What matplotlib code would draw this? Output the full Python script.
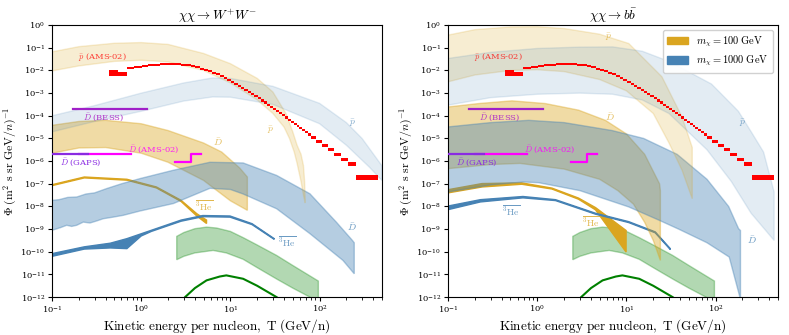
import numpy as np
import matplotlib
matplotlib.use("Agg")
import matplotlib.pyplot as plt
from matplotlib.patches import Patch

plt.rcParams['mathtext.fontset'] = 'cm'
plt.rcParams['font.family'] = 'serif'
plt.rcParams['font.serif'] = ['DejaVu Serif']

ORANGE = 'goldenrod'
BLUE = 'steelblue'
GREEN = 'green'

## AMS-02 antiproton data (bin edges in T, log10 of flux, half height in dex)
ams_edges = [0.433, 0.554, 0.690, 0.840, 1.013, 1.199, 1.408, 1.639, 1.892, 2.177, 2.483,
             2.821, 3.190, 3.590, 4.031, 4.513, 5.036, 5.600, 6.214, 6.879, 7.594, 8.369,
             9.205, 10.10, 11.10, 12.10, 13.19, 14.39, 15.69, 17.09, 18.59, 20.18, 21.88,
             23.78, 25.78, 27.88, 30.18, 32.58, 35.17, 37.97, 40.97, 44.17, 47.57, 51.27,
             55.17, 59.37, 63.87, 68.77, 73.97, 79.57, 92.07, 107.1, 124.1, 146.1, 174.1,
             210.1, 258.1, 449.1]
ams_logflux = [-2.12, -2.16, -1.90, -1.85, -1.81, -1.78, -1.75, -1.73, -1.72, -1.72, -1.73,
               -1.75, -1.78, -1.82, -1.86, -1.92, -1.98, -2.04, -2.10, -2.17, -2.25, -2.33,
               -2.41, -2.49, -2.58, -2.67, -2.76, -2.85, -2.94, -3.04, -3.13, -3.22, -3.32,
               -3.41, -3.51, -3.60, -3.70, -3.79, -3.89, -3.98, -4.07, -4.17, -4.26, -4.35,
               -4.45, -4.54, -4.63, -4.72, -4.81, -4.96, -5.15, -5.32, -5.50, -5.70, -5.92,
               -6.12, -6.72]
ams_err = [0.13, 0.085] + [0.045] * 28 + [0.05] * 15 + [0.06] * 5 + [0.065] * 4 + [0.07, 0.08, 0.10]

## experimental sensitivities
bess_T = [0.17, 1.15]
bess_phi = [1.9e-4, 1.9e-4]
gaps_T = [0.05, 0.25]
gaps_phi = [2.0e-6, 2.0e-6]
ams_dbar_T1 = [0.2, 0.76]
ams_dbar_phi1 = [2.0e-6, 2.0e-6]
ams_dbar_T2 = [2.4, 3.65, 3.65, 4.7]
ams_dbar_phi2 = [9.0e-7, 9.0e-7, 2.0e-6, 2.0e-6]

## background band and line (same on both panels), log10 flux
bkg_T_up = [2.5, 3, 4, 5.4, 7, 10, 14, 20, 33, 50, 70, 97]
bkg_up = [-9.32, -9.15, -8.98, -8.91, -8.95, -9.1, -9.38, -9.7, -10.16, -10.6, -10.95, -11.29]
bkg_T_lo = [2.5, 3, 4, 6.4, 9, 13.9, 20, 33, 50, 78, 97]
bkg_lo = [-10.35, -10.2, -10.05, -9.94, -10.05, -10.33, -10.7, -11.2, -11.6, -12.0, -12.3]
line_T = [2.8, 3.1, 4, 5.4, 7.6, 9, 13.9, 20, 33, 40]
line_phi = [-12.2, -12.0, -11.6, -11.26, -11.09, -11.04, -11.19, -11.5, -12.0, -12.25]

## --- W+W- panel ---
ww_pbar100_T_up = [0.1, 0.2, 0.5, 1, 2, 5, 10, 20, 30, 42, 50, 56, 62, 66, 68, 69]
ww_pbar100_up = [-1.18, -0.95, -0.8, -0.77, -0.85, -1.25, -1.7, -2.35, -2.95, -3.9, -4.7, -5.3, -5.7, -6.2, -6.9, -7.7]
ww_pbar100_T_lo = [0.1, 0.2, 0.5, 1, 2, 5, 10, 20, 30, 40, 46, 52, 56, 62, 66, 69]
ww_pbar100_lo = [-2.02, -1.8, -1.6, -1.55, -1.62, -2.0, -2.55, -3.3, -3.9, -4.5, -5.0, -5.6, -6.1, -6.9, -7.5, -7.85]

ww_pbar1000_T_up = [0.1, 0.3, 1, 3, 6.3, 10, 30, 100, 200, 300, 500]
ww_pbar1000_up = [-4.0, -3.55, -3.0, -2.55, -2.33, -2.35, -2.7, -3.45, -4.3, -5.0, -6.2]
ww_pbar1000_T_lo = [0.1, 0.3, 1, 3, 6.3, 10, 30, 100, 200, 363, 500]
ww_pbar1000_lo = [-4.71, -4.25, -3.8, -3.35, -3.17, -3.18, -3.5, -4.35, -5.3, -6.27, -6.85]

ww_dbar100_T_up = [0.1, 0.2, 0.4, 1, 2, 5, 8, 12.7, 15.5]
ww_dbar100_up = [-4.42, -4.25, -4.2, -4.35, -4.65, -5.2, -5.6, -6.3, -6.7]
ww_dbar100_T_lo = [0.1, 0.2, 0.4, 1, 2, 5, 10, 15.5]
ww_dbar100_lo = [-5.65, -5.42, -5.4, -5.65, -6.05, -6.85, -7.75, -8.17]

ww_dbar1000_T_up = [0.1, 0.12, 0.15, 0.19, 0.24, 0.3, 0.41, 0.6, 0.97, 2.3, 5.9, 13.9, 33, 78, 155, 234, 245]
ww_dbar1000_up = [-7.73, -7.7, -7.6, -7.58, -7.45, -7.4, -7.21, -7.0, -6.77, -6.4, -6.05, -6.08, -6.63, -7.44, -8.7, -9.5, -9.6]
ww_dbar1000_T_lo = [0.1, 0.123, 0.146, 0.166, 0.189, 0.224, 0.266, 0.316, 0.376, 0.486, 0.63, 0.97,
                    2.3, 5.9, 10, 13.9, 33, 78, 183, 245]
ww_dbar1000_lo = [-9.05, -8.94, -8.83, -8.88, -8.83, -8.69, -8.73, -8.64, -8.54, -8.47, -8.39, -8.2,
                  -7.87, -7.2, -7.25, -7.45, -8.1, -9.2, -10.38, -10.97]

ww_he100_T = [0.1, 0.23, 0.69, 1.48, 2.8, 4.2, 5.4]
ww_he100_up = [-7.04, -6.7, -6.8, -7.14, -7.73, -8.32, -8.6]
ww_he100_lo = [-7.08, -6.74, -6.84, -7.18, -7.78, -8.42, -8.75]

ww_he1000_T_up = [0.1, 0.23, 0.45, 0.69, 1.3, 2.8, 4.9, 9.9, 17.5, 31]
ww_he1000_up = [-10.08, -9.78, -9.62, -9.42, -9.05, -8.6, -8.4, -8.42, -8.76, -9.42]
ww_he1000_T_lo = [0.1, 0.23, 0.45, 0.69, 1.0, 1.3, 2.8, 4.9, 9.9, 17.5, 31]
ww_he1000_lo = [-10.2, -9.88, -9.83, -9.86, -9.3, -9.1, -8.65, -8.45, -8.47, -8.8, -9.45]

## --- b bbar panel ---
bb_pbar100_T_up = [0.1, 0.2, 0.5, 1, 2, 5, 10.6, 25, 42, 54.7]
bb_pbar100_up = [-0.44, -0.2, -0.08, -0.07, -0.15, -0.4, -0.81, -2.28, -4.05, -5.4]
bb_pbar100_T_lo = [0.1, 0.2, 0.5, 1, 2, 5, 10, 20, 30, 42, 54.7]
bb_pbar100_lo = [-2.5, -2.2, -2.0, -1.97, -2.05, -2.4, -2.9, -3.9, -5.2, -6.4, -7.66]

bb_pbar1000_T_up = [0.1, 0.3, 1, 3, 7, 15, 30, 90, 180, 250, 345, 453]
bb_pbar1000_up = [-1.47, -1.2, -1.03, -0.97, -0.96, -1.15, -1.6, -2.6, -3.8, -4.7, -5.6, -7.36]
bb_pbar1000_T_lo = [0.1, 0.3, 1, 3, 7, 15, 30, 80, 150, 250, 453]
bb_pbar1000_lo = [-3.53, -3.2, -3.05, -3.0, -3.05, -3.3, -3.9, -5.5, -6.9, -8.3, -9.5]

bb_dbar100_T_up = [0.1, 0.22, 0.52, 1.23, 2.9, 5.8, 10, 16, 23.5, 24]
bb_dbar100_up = [-3.61, -3.46, -3.34, -3.46, -3.75, -4.2, -4.8, -5.7, -7.0, -7.3]
bb_dbar100_T_lo = [0.1, 0.3, 0.64, 2, 5, 8, 12, 16, 20, 24]
bb_dbar100_lo = [-6.33, -6.15, -6.1, -6.35, -6.8, -7.3, -7.9, -8.7, -9.5, -10.38]

bb_dbar1000_T_up = [0.1, 0.3, 0.8, 2, 6.9, 15.6, 37, 80, 140, 181, 190]
bb_dbar1000_up = [-4.49, -4.3, -4.2, -4.3, -4.65, -5.0, -5.7, -6.8, -8.0, -8.98, -9.06]
bb_dbar1000_T_lo = [0.1, 0.3, 0.69, 1.03, 3, 10.6, 23, 38.5, 80, 142, 190]
bb_dbar1000_lo = [-7.36, -7.05, -6.92, -6.95, -7.3, -8.02, -8.6, -9.0, -9.6, -10.23, -12.1]

bb_he100_T = [0.1, 0.24, 0.67, 1.46, 2.9, 4.5, 9.9]
bb_he100_up = [-7.26, -6.99, -6.96, -7.19, -7.63, -8.05, -9.06]
bb_he100_lo = [-7.4, -7.14, -7.02, -7.23, -7.68, -8.15, -10.01]

bb_he1000_T = [0.1, 0.23, 0.69, 1.6, 4.5, 10.6, 21, 31]
bb_he1000_up = [-7.98, -7.7, -7.56, -7.7, -8.3, -8.67, -9.12, -9.86]
bb_he1000_lo = [-8.14, -7.8, -7.62, -7.74, -8.34, -8.71, -9.16, -9.9]


def band(ax, T_up, up, T_lo, lo, color, alpha, lw=1.0):
    x = list(T_up) + list(T_lo)[::-1]
    y = [10.0 ** v for v in up] + [10.0 ** v for v in lo][::-1]
    ax.fill(x, y, color=color, alpha=alpha, lw=lw)


def common(ax, title):
    ## background
    band(ax, bkg_T_up, bkg_up, bkg_T_lo, bkg_lo, GREEN, 0.3)
    ax.plot(line_T, [10.0 ** v for v in line_phi], color=GREEN, lw=1.5)

    ## AMS-02 antiprotons
    lo_e = np.array(ams_edges[:-1])
    hi_e = np.array(ams_edges[1:])
    c = np.array(ams_logflux)
    e = np.array(ams_err)
    ax.bar(lo_e, 10 ** (c + e) - 10 ** (c - e), width=hi_e - lo_e, bottom=10 ** (c - e),
           align='edge', color='red', lw=0, zorder=5)
    ax.text(0.195, 10 ** -1.41, r'$\bar{p}$ (AMS-02)', color='red', alpha=0.75, fontsize=6,
            va='center', zorder=6)

    ## sensitivities
    ax.plot(bess_T, bess_phi, color='#a020c8', lw=1.6, zorder=6)
    ax.plot(ams_dbar_T1, ams_dbar_phi1, color='magenta', lw=1.6, zorder=6)
    ax.plot(ams_dbar_T2, ams_dbar_phi2, color='magenta', lw=1.6, zorder=6)
    ax.plot(gaps_T, gaps_phi, color='#8a2be2', lw=1.6, zorder=7)
    ax.text(0.222, 10 ** -4.08, r'$\bar{D}$ (BESS)', color='#b030c8', fontsize=6, va='center')
    ax.text(0.71, 10 ** -5.45, r'$\bar{D}$ (AMS-02)', color='magenta', alpha=0.85, fontsize=6, va='center')
    ax.text(0.123, 10 ** -6.04, r'$\bar{D}$ (GAPS)', color='#8a2be2', fontsize=6, va='center')

    ax.set_xscale('log')
    ax.set_yscale('log')
    ax.set_xlim(0.1, 500)
    ax.set_ylim(1e-12, 1)
    ax.set_yticks([10.0 ** -k for k in range(0, 13)])
    ax.yaxis.set_minor_locator(matplotlib.ticker.NullLocator())
    ax.tick_params(labelsize=6, pad=2, length=3)
    ax.tick_params(which='minor', length=2)
    ax.set_title(title, fontsize=9.5, pad=3)
    ax.set_xlabel(r'$\mathrm{Kinetic\ energy\ per\ nucleon,\ T\ (GeV/n)}$', fontsize=9.5, labelpad=1)
    ax.set_ylabel(r'$\Phi\ (\mathrm{m}^2\ \mathrm{s\ sr\ GeV}/n)^{-1}$', fontsize=8.5, labelpad=1)


fig = plt.figure(figsize=(7.89, 3.35), dpi=100)
ax1 = fig.add_axes([0.066, 0.113, 0.418, 0.812])
ax2 = fig.add_axes([0.568, 0.113, 0.418, 0.812])

## left panel
common(ax1, r'$\chi\chi \rightarrow W^{+}W^{-}$')
band(ax1, ww_he100_T, ww_he100_up, ww_he100_T, ww_he100_lo, ORANGE, 1.0)
band(ax1, ww_he1000_T_up, ww_he1000_up, ww_he1000_T_lo, ww_he1000_lo, BLUE, 1.0)
band(ax1, ww_dbar100_T_up, ww_dbar100_up, ww_dbar100_T_lo, ww_dbar100_lo, ORANGE, 0.4)
band(ax1, ww_dbar1000_T_up, ww_dbar1000_up, ww_dbar1000_T_lo, ww_dbar1000_lo, BLUE, 0.4)
band(ax1, ww_pbar100_T_up, ww_pbar100_up, ww_pbar100_T_lo, ww_pbar100_lo, ORANGE, 0.2)
band(ax1, ww_pbar1000_T_up, ww_pbar1000_up, ww_pbar1000_T_lo, ww_pbar1000_lo, BLUE, 0.15)
ax1.text(6.3, 10 ** -5.15, r'$\bar{D}$', color=ORANGE, alpha=0.7, fontsize=7, va='center')
ax1.text(25.5, 10 ** -4.64, r'$\bar{p}$', color=ORANGE, alpha=0.7, fontsize=7, va='center')
ax1.text(212, 10 ** -4.34, r'$\bar{p}$', color=BLUE, alpha=0.7, fontsize=7, va='center')
ax1.text(4.0, 10 ** -7.95, r'$\overline{^3\mathrm{He}}$', color=ORANGE, alpha=0.8, fontsize=7, va='center')
ax1.text(33.9, 10 ** -9.54, r'$\overline{^3\mathrm{He}}$', color=BLUE, alpha=0.8, fontsize=7, va='center')
ax1.text(201, 10 ** -8.91, r'$\bar{D}$', color=BLUE, alpha=0.8, fontsize=7, va='center')

## right panel
common(ax2, r'$\chi\chi \rightarrow b\bar{b}$')
band(ax2, bb_he100_T, bb_he100_up, bb_he100_T, bb_he100_lo, ORANGE, 1.0)
band(ax2, bb_he1000_T, bb_he1000_up, bb_he1000_T, bb_he1000_lo, BLUE, 1.0)
band(ax2, bb_dbar100_T_up, bb_dbar100_up, bb_dbar100_T_lo, bb_dbar100_lo, ORANGE, 0.4)
band(ax2, bb_dbar1000_T_up, bb_dbar1000_up, bb_dbar1000_T_lo, bb_dbar1000_lo, BLUE, 0.4)
band(ax2, bb_pbar100_T_up, bb_pbar100_up, bb_pbar100_T_lo, bb_pbar100_lo, ORANGE, 0.2)
band(ax2, bb_pbar1000_T_up, bb_pbar1000_up, bb_pbar1000_T_lo, bb_pbar1000_lo, BLUE, 0.15)
ax2.text(5.8, 10 ** -0.52, r'$\bar{p}$', color=ORANGE, alpha=0.7, fontsize=7, va='center')
ax2.text(5.8, 10 ** -4.05, r'$\bar{D}$', color=ORANGE, alpha=0.7, fontsize=7, va='center')
ax2.text(182, 10 ** -4.34, r'$\bar{p}$', color=BLUE, alpha=0.7, fontsize=7, va='center')
ax2.text(0.4, 10 ** -8.17, r'$\overline{^3\mathrm{He}}$', color=BLUE, alpha=0.8, fontsize=7, va='center')
ax2.text(3.17, 10 ** -8.69, r'$\overline{^3\mathrm{He}}$', color=ORANGE, alpha=0.8, fontsize=7, va='center')
ax2.text(227, 10 ** -9.5, r'$\bar{D}$', color=BLUE, alpha=0.8, fontsize=7, va='center')

handles = [Patch(color=ORANGE, label=r'$m_\chi = 100\ \mathrm{GeV}$'),
           Patch(color=BLUE, label=r'$m_\chi = 1000\ \mathrm{GeV}$')]
ax2.legend(handles=handles, loc='upper right', fontsize=7.5, framealpha=0.9)

fig.savefig('out.png', dpi=100)
